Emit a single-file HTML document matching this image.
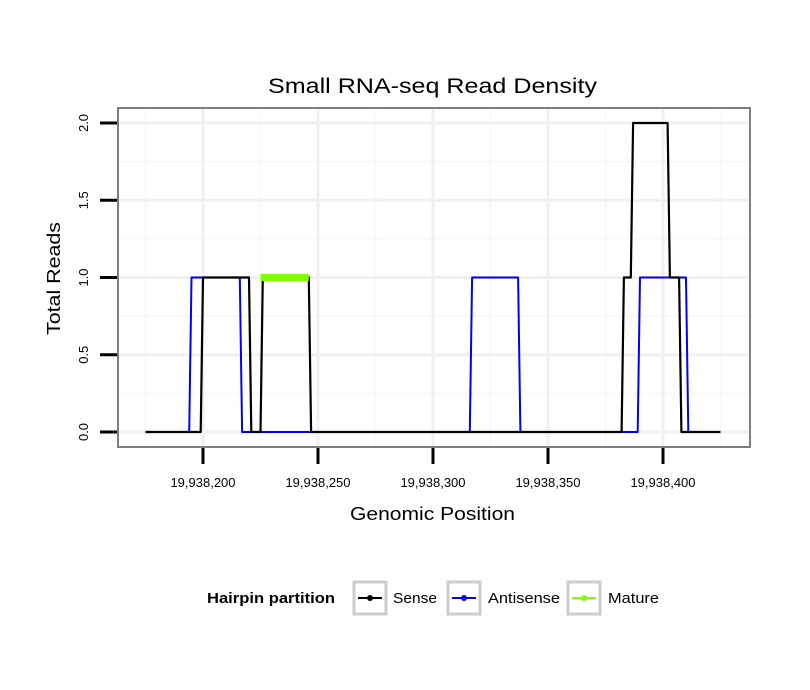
<!DOCTYPE html>
<html><head><meta charset="utf-8"><style>
body{margin:0;background:#fff;}
svg{display:block;font-family:"Liberation Sans",sans-serif;}
</style></head><body>
<svg id="chart" width="810" height="690" viewBox="0 0 810 690">
<rect width="810" height="690" fill="#fff"/>
<text x="268" y="93" font-size="21" textLength="329" lengthAdjust="spacingAndGlyphs">Small RNA-seq Read Density</text>
<g id="grid"></g>
<g id="series"></g>
<rect x="118" y="108" width="632" height="339" fill="none" stroke="#7f7f7f" stroke-width="2"/>
<g id="axes"></g>
<text x="350" y="520" font-size="18" textLength="165" lengthAdjust="spacingAndGlyphs">Genomic Position</text>
<text transform="translate(60,335) rotate(-90)" font-size="18" textLength="113" lengthAdjust="spacingAndGlyphs">Total Reads</text>
<g>
<text x="207" y="603" font-size="15" font-weight="bold" textLength="128" lengthAdjust="spacingAndGlyphs">Hairpin partition</text>
<g>
<rect x="354" y="582" width="32" height="32" fill="#fff" stroke="#cccccc" stroke-width="3"/>
<line x1="358" y1="598" x2="382" y2="598" stroke="#000" stroke-width="2"/><circle cx="370" cy="598" r="3" fill="#000"/>
<text x="393" y="603" font-size="15" textLength="44" lengthAdjust="spacingAndGlyphs">Sense</text></g>
<g>
<rect x="448" y="582" width="32" height="32" fill="#fff" stroke="#cccccc" stroke-width="3"/>
<line x1="452" y1="598" x2="476" y2="598" stroke="#0000ff" stroke-width="2"/><circle cx="464" cy="598" r="3" fill="#0000ff"/>
<text x="488" y="603" font-size="15" textLength="72" lengthAdjust="spacingAndGlyphs">Antisense</text></g>
<g>
<rect x="568" y="582" width="32" height="32" fill="#fff" stroke="#cccccc" stroke-width="3"/>
<line x1="572" y1="598" x2="596" y2="598" stroke="#7fff00" stroke-width="2"/><circle cx="584" cy="598" r="3" fill="#7fff00"/>
<text x="608" y="603" font-size="15" textLength="51" lengthAdjust="spacingAndGlyphs">Mature</text></g>
</g>
</svg>
<script>
const xTicks=[19938200,19938250,19938300,19938350,19938400];
const xTickLabels=["19,938,200","19,938,250","19,938,300","19,938,350","19,938,400"];
const yTicks=[0,0.5,1,1.5,2];
const yTickLabels=["0.0","0.5","1.0","1.5","2.0"];
const sensePos=[19938175,19938199,19938200,19938220,19938221,19938225,19938226,19938246,19938247,19938382,19938383,19938386,19938387,19938402,19938403,19938407,19938408,19938425];
const senseVal=[0,0,1,1,0,0,1,1,0,0,1,1,2,2,1,1,0,0];
const antiPos=[19938175,19938194,19938195,19938216,19938217,19938316,19938317,19938337,19938338,19938389,19938390,19938410,19938411,19938425];
const antiVal=[0,0,1,1,0,0,1,1,0,0,1,1,0,0];
const maturePos=[19938225,19938246];
const matureVal=[1,1];

const NS="http://www.w3.org/2000/svg";
const X=v=>203+(v-19938200)*2.3;
const Y=v=>432-v*154.5;
function mk(t,a,p){const e=document.createElementNS(NS,t);for(const k in a)e.setAttribute(k,a[k]);p.appendChild(e);return e;}
const grid=document.getElementById('grid'),axes=document.getElementById('axes'),ser=document.getElementById('series');
for(let v=19938175;v<=19938425;v+=50){const l=mk('line',{x1:X(v),x2:X(v),y1:109,y2:446,stroke:'#f7f7f7','stroke-width':1.5},grid);

}
for(let v=0.25;v<2.2;v+=0.5){const l=mk('line',{x1:119,x2:749,y1:Y(v),y2:Y(v),stroke:'#f7f7f7','stroke-width':1.5},grid);

}
xTicks.forEach((v,i)=>{
const g=mk('line',{x1:X(v),x2:X(v),y1:109,y2:446,stroke:'#f0f0f0','stroke-width':3},grid);


const t=mk('line',{x1:X(v),x2:X(v),y1:448,y2:464,stroke:'#000','stroke-width':3},axes);


const tx=mk('text',{x:X(v),y:487,'font-size':13,'text-anchor':'middle'},axes);tx.textContent=xTickLabels[i];


});
yTicks.forEach((v,i)=>{
const g=mk('line',{x1:119,x2:749,y1:Y(v),y2:Y(v),stroke:'#f0f0f0','stroke-width':3},grid);


const t=mk('line',{x1:100,x2:117,y1:Y(v),y2:Y(v),stroke:'#000','stroke-width':3},axes);


const tx=mk('text',{transform:`translate(88,${Y(v)}) rotate(-90)`,'font-size':13,'text-anchor':'middle'},axes);tx.textContent=yTickLabels[i];


});
function line(pos,val,color,w,name){
const p=mk('polyline',{points:pos.map((v,i)=>X(v)+','+Y(val[i])).join(' '),fill:'none',stroke:color,'stroke-width':w,'stroke-linejoin':'round'},ser);


}
line(antiPos,antiVal,'#0000ff',2,'antisense-line');
line(sensePos,senseVal,'#000',2.2,'sense-line');
line(maturePos,matureVal,'#7fff00',7,'mature-line');
</script>
</body></html>
